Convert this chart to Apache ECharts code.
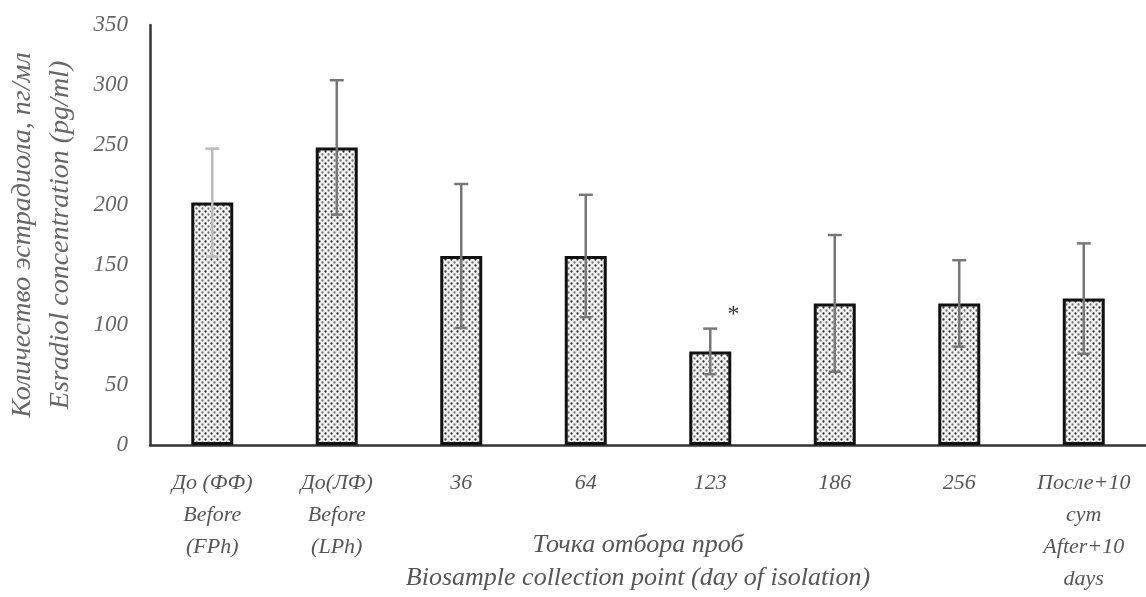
<!DOCTYPE html>
<html>
<head>
<meta charset="utf-8">
<script src="https://cdn.jsdelivr.net/npm/echarts@6/dist/echarts.min.js"></script>
<style>
  html, body { margin: 0; padding: 0; background: #fff; }
  #chart { width: 1146px; height: 597px; }
</style>
</head>
<body>
<div id="chart"></div>
<script>
// данные
const categories = [
  'До (ФФ)\nBefore\n(FPh)',
  'До(ЛФ)\nBefore\n(LPh)',
  '36', '64', '123', '186', '256',
  'После+10\nсут\nAfter+10\ndays'
]
const means = [202, 248, 157.5, 157.5, 78, 118, 118, 122]
const sd = [45, 56, 60, 51, 19, 57, 36, 46]
const marks = ['', '', '', '', '*', '', '', '']
const yTicks = [0, 50, 100, 150, 200, 250, 300, 350]

// точечная заливка столбцов
function dotPattern() {
  const c = document.createElement('canvas')
  c.width = 6
  c.height = 6
  const ctx = c.getContext('2d')
  ctx.fillStyle = '#f2f2f2'
  ctx.fillRect(0, 0, 6, 6)
  ctx.fillStyle = '#2e2e2e'
  ctx.beginPath(); ctx.arc(1.5, 1.5, 1.15, 0, Math.PI * 2); ctx.fill()
  ctx.fillStyle = '#707070'
  ctx.beginPath(); ctx.arc(4.5, 4.5, 1.15, 0, Math.PI * 2); ctx.fill()
  return c
}

const font = '"Liberation Serif", "DejaVu Serif", serif'
const chart = echarts.init(document.getElementById('chart'))

chart.setOption({
  animation: false,
  grid: { left: 150, right: 0, top: 25, bottom: 152, outerBoundsMode: 'none' },
  xAxis: {
    type: 'category',
    data: categories,
    axisLine: { lineStyle: { color: '#333', width: 2.5 } },
    axisTick: { show: false },
    axisLabel: {
      interval: 0,
      margin: 22,
      color: '#555',
      fontFamily: font,
      fontStyle: 'italic',
      fontSize: 22,
      lineHeight: 32
    },
    name: 'Точка отбора проб\nBiosample collection point (day of isolation)',
    nameLocation: 'middle',
    nameGap: 84,
    nameMoveOverlap: false,
    nameTextStyle: {
      color: '#555',
      fontFamily: font,
      fontStyle: 'italic',
      fontSize: 26,
      lineHeight: 33,
      padding: [0, 20, 0, 0]
    }
  },
  yAxis: {
    type: 'value',
    min: 0,
    max: yTicks[yTicks.length - 1],
    interval: yTicks[1] - yTicks[0],
    splitLine: { show: false },
    axisLine: { show: true, lineStyle: { color: '#333', width: 2.5 } },
    axisTick: { show: false },
    axisLabel: {
      margin: 22,
      color: '#666',
      fontFamily: font,
      fontStyle: 'italic',
      fontSize: 23
    },
    name: 'Количество эстрадиола, пг/мл\nEsradiol concentration (pg/ml)',
    nameLocation: 'middle',
    nameGap: 70,
    nameMoveOverlap: false,
    nameTextStyle: {
      color: '#666',
      fontFamily: font,
      fontStyle: 'italic',
      fontSize: 28,
      lineHeight: 38
    }
  },
  series: [
    {
      type: 'bar',
      data: means,
      barWidth: 42,
      itemStyle: {
        color: { image: dotPattern(), repeat: 'repeat' },
        borderColor: '#111',
        borderWidth: 3
      },
      z: 2
    },
    {
      type: 'custom',
      z: 3,
      data: means.map((m, i) => [i, m + sd[i], m - sd[i]]),
      renderItem(params, api) {
        const i = api.value(0)
        const top = api.coord([i, api.value(1)])
        const bot = api.coord([i, api.value(2)])
        const x = top[0]
        const col = i === 0 ? '#bbb' : '#777'
        const st = { stroke: col, lineWidth: 2.5 }
        const children = [
          { type: 'line', shape: { x1: x, y1: top[1], x2: x, y2: bot[1] }, style: st },
          { type: 'line', shape: { x1: x - 7, y1: top[1], x2: x + 7, y2: top[1] }, style: st },
          { type: 'line', shape: { x1: x - 6, y1: bot[1], x2: x + 6, y2: bot[1] }, style: st }
        ]
        if (marks[i]) {
          children.push({
            type: 'text',
            style: {
              text: marks[i],
              x: x + 22,
              y: top[1] - 14,
              fill: '#333',
              font: 'italic 24px ' + font,
              align: 'center',
              verticalAlign: 'middle'
            }
          })
        }
        return { type: 'group', children }
      }
    }
  ]
})
</script>
</body>
</html>
